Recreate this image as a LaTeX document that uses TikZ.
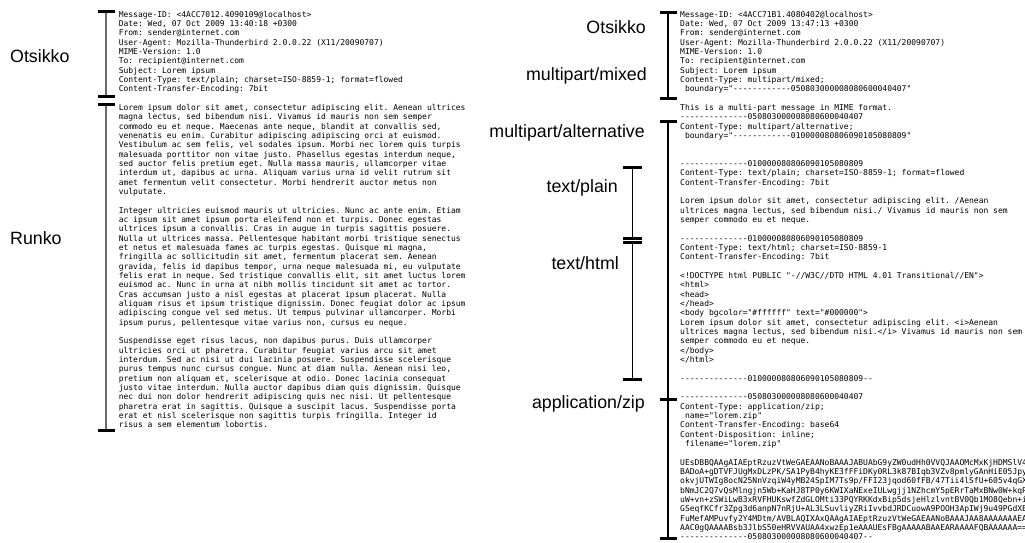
\documentclass[tikz,border=0pt]{standalone}
\usepackage{fontspec}
\setmonofont{DejaVu Sans Mono}
\newfontfamily\labelfont{Liberation Sans}
\definecolor{bargray}{HTML}{6A6A6A}
\tikzset{
  % viestin teksti, ylareuna = ensimmaisen rivin strut
  mail/.style={anchor=north west, inner sep=0pt, align=left,
    font={\ttfamily\fontsize{8}{9.33}\selectfont}},
  % osien nimet
  part/.style={anchor=east, inner sep=0pt, text height=12.8pt, text depth=0pt,
    font={\labelfont\fontsize{17.8}{20}\selectfont}},
  % hakasulkeet
  brkline/.style={line width=1.3pt},
  brktick/.style={line width=3pt},
  lbrkline/.style={line width=2pt, bargray}
}

\begin{document}
\begin{tikzpicture}[x=1pt, y=-1pt]
  \useasboundingbox (0,0) rectangle (1025,543);
  \begin{scope}
  \clip (0,0) rectangle (1025,543);

  % vasen viesti
  \node[mail] (lhead) at (118.6,{17-6.531}) {\strut Message-ID: <4ACC7012.4090109@localhost>\\
Date: Wed, 07 Oct 2009 13:40:18 +0300\\
From: sender@internet.com\\
User-Agent: Mozilla-Thunderbird 2.0.0.22 (X11/20090707)\\
MIME-Version: 1.0\\
To: recipient@internet.com\\
Subject: Lorem ipsum\\
Content-Type: text/plain; charset=ISO-8859-1; format=flowed\\
Content-Transfer-Encoding: 7bit};
  \node[mail] (lbody) at (118.6,{17+10*9.33-6.531}) {\strut Lorem ipsum dolor sit amet, consectetur adipiscing elit. Aenean ultrices\\
magna lectus, sed bibendum nisi. Vivamus id mauris non sem semper\\
commodo eu et neque. Maecenas ante neque, blandit at convallis sed,\\
venenatis eu enim. Curabitur adipiscing adipiscing orci at euismod.\\
Vestibulum ac sem felis, vel sodales ipsum. Morbi nec lorem quis turpis\\
malesuada porttitor non vitae justo. Phasellus egestas interdum neque,\\
sed auctor felis pretium eget. Nulla massa mauris, ullamcorper vitae\\
interdum ut, dapibus ac urna. Aliquam varius urna id velit rutrum sit\\
amet fermentum velit consectetur. Morbi hendrerit auctor metus non\\
vulputate.\\[9.33pt]
Integer ultricies euismod mauris ut ultricies. Nunc ac ante enim. Etiam\\
ac ipsum sit amet ipsum porta eleifend non et turpis. Donec egestas\\
ultrices ipsum a convallis. Cras in augue in turpis sagittis posuere.\\
Nulla ut ultrices massa. Pellentesque habitant morbi tristique senectus\\
et netus et malesuada fames ac turpis egestas. Quisque mi magna,\\
fringilla ac sollicitudin sit amet, fermentum placerat sem. Aenean\\
gravida, felis id dapibus tempor, urna neque malesuada mi, eu vulputate\\
felis erat in neque. Sed tristique convallis elit, sit amet luctus lorem\\
euismod ac. Nunc in urna at nibh mollis tincidunt sit amet ac tortor.\\
Cras accumsan justo a nisl egestas at placerat ipsum placerat. Nulla\\
aliquam risus et ipsum tristique dignissim. Donec feugiat dolor ac ipsum\\
adipiscing congue vel sed metus. Ut tempus pulvinar ullamcorper. Morbi\\
ipsum purus, pellentesque vitae varius non, cursus eu neque.\\[9.33pt]
Suspendisse eget risus lacus, non dapibus purus. Duis ullamcorper\\
ultricies orci ut pharetra. Curabitur feugiat varius arcu sit amet\\
interdum. Sed ac nisi ut dui lacinia posuere. Suspendisse scelerisque\\
purus tempus nunc cursus congue. Nunc at diam nulla. Aenean nisi leo,\\
pretium non aliquam et, scelerisque at odio. Donec lacinia consequat\\
justo vitae interdum. Nulla auctor dapibus diam quis dignissim. Quisque\\
nec dui non dolor hendrerit adipiscing quis nec nisi. Ut pellentesque\\
pharetra erat in sagittis. Quisque a suscipit lacus. Suspendisse porta\\
erat et nisl scelerisque non sagittis turpis fringilla. Integer id\\
risus a sem elementum lobortis.};

  % oikea viesti
  \node[mail] (rhead) at (680,{17-6.531}) {\strut Message-ID: <4ACC71B1.4080402@localhost>\\
Date: Wed, 07 Oct 2009 13:47:13 +0300\\
From: sender@internet.com\\
User-Agent: Mozilla-Thunderbird 2.0.0.22 (X11/20090707)\\
MIME-Version: 1.0\\
To: recipient@internet.com\\
Subject: Lorem ipsum\\
Content-Type: multipart/mixed;\\
\hphantom{x}boundary="------------050803000008080600040407"};
  \node[mail] (ralt) at (680,{17+10*9.33-6.531}) {\strut This is a multi-part message in MIME format.\\
--------------050803000008080600040407\\
Content-Type: multipart/alternative;\\
\hphantom{x}boundary="------------010000080806090105080809"};
  \node[mail] (rplain) at (680,{17+16*9.33-6.531}) {\strut --------------010000080806090105080809\\
Content-Type: text/plain; charset=ISO-8859-1; format=flowed\\
Content-Transfer-Encoding: 7bit\\[9.33pt]
Lorem ipsum dolor sit amet, consectetur adipiscing elit. /Aenean\\
ultrices magna lectus, sed bibendum nisi./ Vivamus id mauris non sem\\
semper commodo eu et neque.};
  \node[mail] (rhtml) at (680,{17+24*9.33-6.531}) {\strut --------------010000080806090105080809\\
Content-Type: text/html; charset=ISO-8859-1\\
Content-Transfer-Encoding: 7bit\\[9.33pt]
<!DOCTYPE html PUBLIC "-//W3C//DTD HTML 4.01 Transitional//EN">\\
<html>\\
<head>\\
</head>\\
<body bgcolor="\#ffffff" text="\#000000">\\
Lorem ipsum dolor sit amet, consectetur adipiscing elit. <i>Aenean\\
ultrices magna lectus, sed bibendum nisi.</i> Vivamus id mauris non sem\\
semper commodo eu et neque.\\
</body>\\
</html>\\[9.33pt]
--------------010000080806090105080809--};
  \node[mail] (rzip) at (680,{17+41*9.33-6.531}) {\strut --------------050803000008080600040407\\
Content-Type: application/zip;\\
\hphantom{x}name="lorem.zip"\\
Content-Transfer-Encoding: base64\\
Content-Disposition: inline;\\
\hphantom{x}filename="lorem.zip"\\[9.33pt]
UEsDBBQAAgAIAEptRzuzVtWeGAEAANoBAAAJABUAbG9yZW0udHh0VVQJAAOMcMxKjHDMSlV4\\
BADoA+gDTVFJUgMxDLzPK/SA1PyB4hyKE3fFFiDKy0RL3k87BIqb3VZv8pmlyGAnHiE05Jpy\\
okvjUTWIg8ocN25NnVzqiW4yMB24SpIM7Ts9p/FFI23jqod60fFB/47Tii4lSfU+605v4qGX\\
bNmJC2Q7vQsMlngjn5Wb+KaHJ8TP0y6KWIXaNExeIULwgjj1NZhcmY5pERrTaMxBNw0W+kqP\\
uW+vn+zSWiLwB3xRVFHUKswfZdGLOMti33PQYRKKdxBip5dsjeHlzlvntBV0Qb1MO8Qebn+i\\
GSeqfKCfr3Zpg3d6anpN7nRjU+AL3LSuvliyZRiIvvbdJRDCuowA9POOH3ApIWj9u49PGdXE\\
FuMefAMPuvfy2Y4MDtm/AVBLAQIXAxQAAgAIAEptRzuzVtWeGAEAANoBAAAJAA8AAAAAAAEA\\
AAC0gQAAAABsb3JlbS50eHRVVAUAA4xwzEp1eAAAUEsFBgAAAAABAAEARAAAAFQBAAAAAA==\\
--------------050803000008080600040407--};

  % hakasulkeet: nimi/x/yla/ala/puolileveys/tyyli
  \foreach \nm/\x/\ya/\yb/\w/\st in {lhb/106.4/11.4/96/8.3/lbrkline,
      lbb/106.4/104.6/430/8.3/lbrkline,
      rhb/668/13/98/8.5/brkline,
      rab/668/121/399/8.5/brkline,
      rzb/668/399/538/8.5/brkline,
      rpb/632.5/167/238/9.5/brkline,
      rtb/632.5/242/379/9.5/brkline} {
    \coordinate (\nm-top) at (\x,\ya);
    \coordinate (\nm-bot) at (\x,\yb);
    \draw[\st] (\nm-top) -- (\nm-bot);
    \draw[brktick] ([xshift=-\w pt]\nm-top) -- ([xshift=\w pt]\nm-top);
    \draw[brktick] ([xshift=-\w pt]\nm-bot) -- ([xshift=\w pt]\nm-bot);
  }

  % osien nimet
  \node[part, anchor=west] (lheadlbl) at (10,56) {Otsikko};
  \node[part, anchor=west] (lbodylbl) at (10,238.5) {Runko};
  \node[part] (rheadlbl) at (646,27) {Otsikko};
  \node[part] (rmixlbl) at (647,74) {multipart/mixed};
  \node[part] (raltlbl) at (645,131) {multipart/alternative};
  \node[part] (rplainlbl) at (618,186) {text/plain};
  \node[part] (rhtmllbl) at (619,263) {text/html};
  \node[part] (rziplbl) at (645,402) {application/zip};
  \end{scope}
\end{tikzpicture}
\end{document}
